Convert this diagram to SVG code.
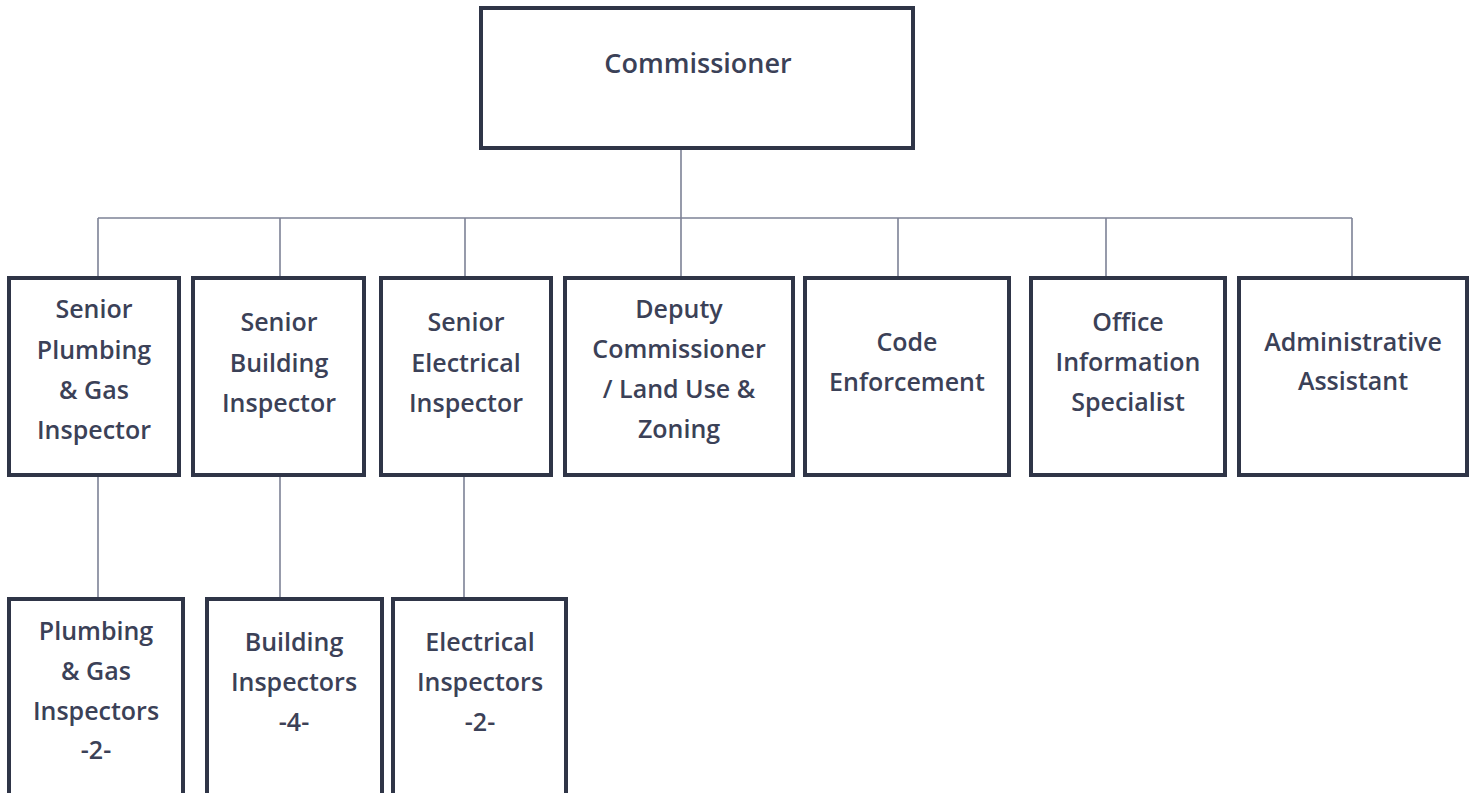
<svg xmlns="http://www.w3.org/2000/svg" width="1476" height="793" viewBox="0 0 1476 793">
<style>
.box{fill:#fff;stroke:#2f3547;stroke-width:4}
.lbl{font-family:"Open Sans",Lato,"Liberation Sans",sans-serif;font-weight:600;font-size:25px;fill:#3b4157;text-anchor:middle;dominant-baseline:central}
.con{stroke:#7d8296;stroke-width:1.6;fill:none}
</style>
<rect width="1476" height="793" fill="#fff"/>
<g id="connectors">
<path class="con" d="M681 148V278M98 218H1352M98 218V278M280 218V278M465 218V278M898 218V278M1106 218V278M1352 218V278M98 475V599M280 475V599M464 475V599"/>
</g>
<g id="commissioner"><rect class="box" x="481" y="8" width="432" height="140"/><text class="lbl" x="698" y="62" style="font-size:27px">Commissioner</text></g>
<g id="senior-plumbing"><rect class="box" x="9" y="278" width="170" height="197"/><text class="lbl" x="94"><tspan x="94" y="308">Senior</tspan><tspan x="94" y="349">Plumbing</tspan><tspan x="94" y="389">&amp; Gas</tspan><tspan x="94" y="429">Inspector</tspan></text></g>
<g id="senior-building"><rect class="box" x="193" y="278" width="171" height="197"/><text class="lbl"><tspan x="279" y="321">Senior</tspan><tspan x="279" y="362">Building</tspan><tspan x="279" y="402">Inspector</tspan></text></g>
<g id="senior-electrical"><rect class="box" x="381" y="278" width="170" height="197"/><text class="lbl"><tspan x="466" y="321">Senior</tspan><tspan x="466" y="362">Electrical</tspan><tspan x="466" y="402">Inspector</tspan></text></g>
<g id="deputy-commissioner"><rect class="box" x="565" y="278" width="228" height="197"/><text class="lbl"><tspan x="679" y="308">Deputy</tspan><tspan x="679" y="348">Commissioner</tspan><tspan x="679" y="388">/ Land Use &amp;</tspan><tspan x="679" y="428">Zoning</tspan></text></g>
<g id="code-enforcement"><rect class="box" x="805" y="278" width="204" height="197"/><text class="lbl"><tspan x="907" y="341">Code</tspan><tspan x="907" y="381">Enforcement</tspan></text></g>
<g id="office-information"><rect class="box" x="1031" y="278" width="194" height="197"/><text class="lbl"><tspan x="1128" y="321">Office</tspan><tspan x="1128" y="361">Information</tspan><tspan x="1128" y="401">Specialist</tspan></text></g>
<g id="administrative-assistant"><rect class="box" x="1239" y="278" width="228" height="197"/><text class="lbl"><tspan x="1353" y="341">Administrative</tspan><tspan x="1353" y="380">Assistant</tspan></text></g>
<g id="plumbing-inspectors"><rect class="box" x="9" y="599" width="174" height="200"/><text class="lbl"><tspan x="96" y="630">Plumbing</tspan><tspan x="96" y="670">&amp; Gas</tspan><tspan x="96" y="710">Inspectors</tspan><tspan x="96" y="749">-2-</tspan></text></g>
<g id="building-inspectors"><rect class="box" x="207" y="599" width="175" height="200"/><text class="lbl"><tspan x="294" y="641">Building</tspan><tspan x="294" y="681">Inspectors</tspan><tspan x="294" y="721">-4-</tspan></text></g>
<g id="electrical-inspectors"><rect class="box" x="393" y="599" width="173" height="200"/><text class="lbl"><tspan x="480" y="641">Electrical</tspan><tspan x="480" y="681">Inspectors</tspan><tspan x="480" y="721">-2-</tspan></text></g>
</svg>
